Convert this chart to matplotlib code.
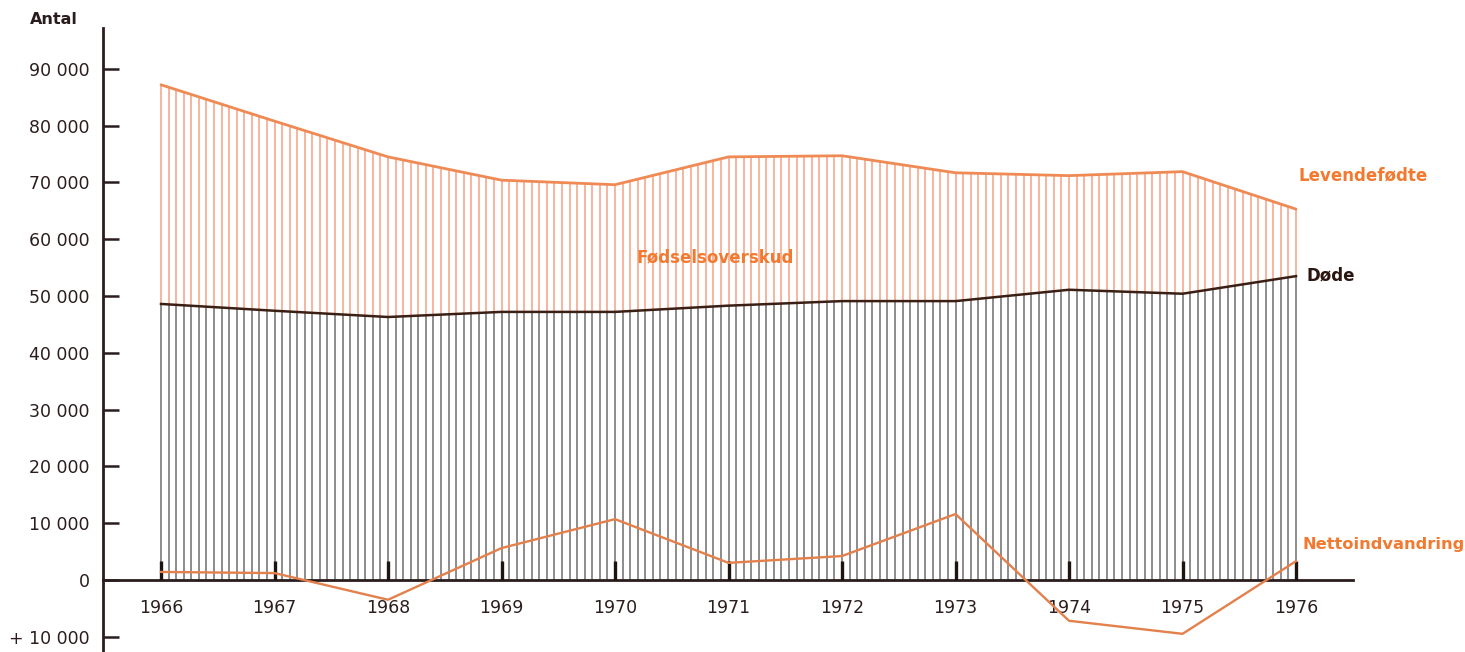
import numpy as np
import matplotlib
matplotlib.use("Agg")
import matplotlib.pyplot as plt

years = [1966, 1967, 1968, 1969, 1970, 1971, 1972, 1973, 1974, 1975, 1976]
births = [87200, 80800, 74500, 70400, 69600, 74500, 74700, 71700, 71200, 71900, 65300]
deaths = [48600, 47400, 46300, 47200, 47200, 48300, 49100, 49100, 51100, 50400, 53500]
net_migration = [1400, 1200, -3500, 5600, 10700, 3000, 4200, 11600, -7200, -9500, 3300]
ytick_values = [90000, 80000, 70000, 60000, 50000, 40000, 30000, 20000, 10000, 0, -10000]
ytick_labels = ["90 000", "80 000", "70 000", "60 000", "50 000", "40 000",
                "30 000", "20 000", "10 000", "0", "+ 10 000"]
hatch_per_year = 15

plt.rcParams['font.family'] = ['DejaVu Sans']
dark = "#2b1d1d"
orange = "#f27a30"

fig = plt.figure(figsize=(14.65, 6.52), dpi=100)
ax = fig.add_axes([103/1465, 0.0, 1250/1465, 1 - 28/652])
ax.set_xlim(1965.489, 1976.502)
ax.set_ylim(-12700, 97200)

# hatch lines
xs = np.linspace(years[0], years[-1], (len(years) - 1) * hatch_per_year + 1)
b_i = np.interp(xs, years, births)
d_i = np.interp(xs, years, deaths)
ax.vlines(xs, 0, d_i, color="#7f7f7f", lw=1.25, zorder=1)
ax.vlines(xs, d_i, b_i, color="#f5ad92", lw=1.25, zorder=1)

# year marks on axis
ax.vlines(years, 0, 3300, color="#1e1410", lw=2.4, zorder=3)

ax.plot(years, births, color="#f08a55", lw=2.0, zorder=4, solid_capstyle="round")
ax.plot(years, deaths, color="#3b1f14", lw=1.8, zorder=4)
ax.plot(years, net_migration, color="#e3804c", lw=1.7, zorder=5)

for s in ["top", "right"]:
    ax.spines[s].set_visible(False)
ax.spines["bottom"].set_position(("data", 0))
ax.spines["bottom"].set_color(dark)
ax.spines["bottom"].set_linewidth(2.0)
ax.spines["left"].set_color(dark)
ax.spines["left"].set_linewidth(2.0)

ax.set_xticks(years)
ax.set_xticklabels([str(y) for y in years])
ax.tick_params(axis="x", length=0, pad=14, labelsize=12.5, labelcolor=dark)
ax.set_yticks(ytick_values)
ax.set_yticklabels(ytick_labels)
ax.tick_params(axis="y", direction="in", length=11.5, width=1.8, color=dark,
               pad=9.5, labelsize=12.5, labelcolor=dark)

fig.text(30/1465, 1 - 20/652, "Antal", fontsize=11.5, fontweight="bold",
         color=dark, ha="left", va="center")
fig.text(1299/1465, 1 - 175/652, "Levendefødte", fontsize=12, fontweight="bold",
         color=orange, ha="left", va="center")
fig.text(1307/1465, 1 - 275/652, "Døde", fontsize=12, fontweight="bold",
         color="#2a1510", ha="left", va="center")
fig.text(715/1465, 1 - 257/652, "Fødselsoverskud", fontsize=12, fontweight="bold",
         color=orange, ha="center", va="center")
fig.text(1302/1465, 1 - 545/652, "Nettoindvandring", fontsize=11.7, fontweight="bold",
         color=orange, ha="left", va="center")

fig.savefig("out.png", dpi=100)
